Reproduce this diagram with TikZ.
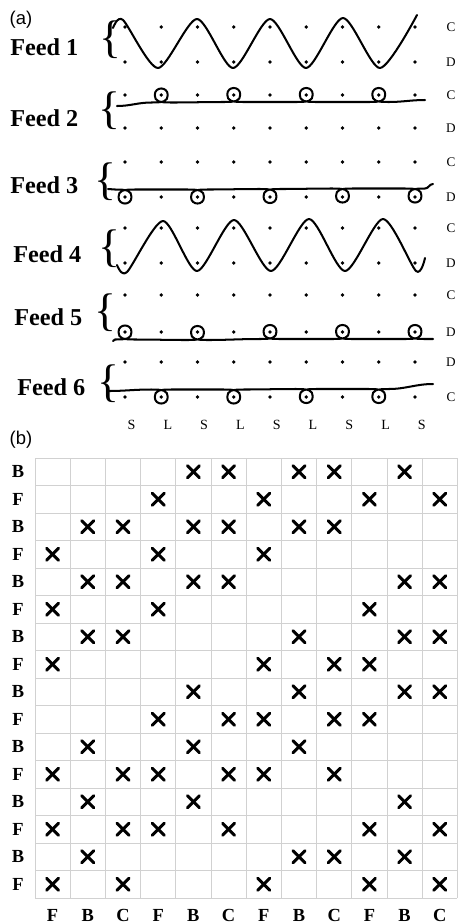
\documentclass[tikz,border=0pt]{standalone}
\usepackage{fontspec}
\setmainfont{Liberation Serif}
\newfontfamily\panelfont{Liberation Sans}
\usetikzlibrary{positioning}
\tikzset{
    feedlbl/.style={font=\fontsize{13.8}{14}\selectfont\bfseries, anchor=west, inner sep=0pt},
    bracelbl/.style={font=\fontsize{26}{26}\selectfont, inner sep=0pt},
    sidelbl/.style={font=\fontsize{7.5}{8}\selectfont, inner sep=0pt},
    stitchlbl/.style={font=\fontsize{8}{9}\selectfont, inner sep=0pt},
    panellbl/.style={font=\panelfont\fontsize{10.5}{12}\selectfont, inner sep=0pt},
    gridlbl/.style={font=\fontsize{10.5}{12}\selectfont\bfseries, inner sep=0pt},
    yarn/.style={line width=1.15pt, line cap=round, line join=round},
    needle/.style={fill=black},
    cellgrid/.style={draw=black!18, line width=0.5pt},
    crossmark/.style={line width=1.7pt, line cap=round}
}

\begin{document}
\begin{tikzpicture}[x=0.02cm, y=-0.02cm]
    \useasboundingbox (0,0) rectangle (458,924);

    % (a) yarn paths over the needle beds
    \node[panellbl] (pa) at (21,20) {(a)};
    \node[feedlbl] (feed1) at (10,47) {Feed 1};
    \node[feedlbl] (feed2) at (10,118) {Feed 2};
    \node[feedlbl] (feed3) at (10,185) {Feed 3};
    \node[feedlbl] (feed4) at (13,254) {Feed 4};
    \node[feedlbl] (feed5) at (14,317) {Feed 5};
    \node[feedlbl] (feed6) at (17,387) {Feed 6};
    \foreach \bx/\by [count=\k] in {110/40, 109/111, 105/182, 109/249, 105/313, 108/384}
        \node[bracelbl] (brace\k) at (\bx,\by) {\{};

    \foreach \y in {27,62,95,128,162,197,228,263,295,332,362,397}
        \foreach \i in {0,...,8}
            \fill[needle] ({125+36.25*\i},\y) circle[radius=1.9];
    \foreach \y/\bed [count=\k] in {27/C, 62/D, 95/C, 128/D, 162/C, 197/D, 228/C, 263/D, 295/C, 332/D, 362/D, 397/C}
        \node[sidelbl] (bed\k) at (451,\y) {\bed};
    \foreach \st [count=\k from 0] in {S,L,S,L,S,L,S,L,S}
        \node[stitchlbl] (st\k) at ({131.5+36.3*\k},425) {\st};

    % feed 1 and feed 4: knit
    \draw[yarn] plot[smooth, tension=0.45] coordinates {(113,28) (123,20) (158,68) (197,19) (233,68) (270,19) (306,68) (343,18) (380,68) (417,15)};
    \draw[yarn] plot[smooth, tension=0.45] coordinates {(117,265) (127,272) (163,221) (197,271) (234,220) (271,271) (309,219) (345,271) (383,219) (416,271) (425,258)};

    % feed 2 and feed 5: tuck loops above the yarn
    \draw[yarn] (117,106) \foreach \cx/\yb in {161.25/102.5, 233.75/102, 306.25/102, 378.75/102} {
        to[out=0,in=180] ({\cx-10},\yb)
        .. controls ({\cx+2},\yb) and ({\cx+6.5},{\yb-1}) .. ({\cx+6.5},{\yb-7.5})
        .. controls ({\cx+6.5},{\yb-16.2}) and ({\cx-6.5},{\yb-16.2}) .. ({\cx-6.5},{\yb-7.5})
        .. controls ({\cx-6.5},{\yb-1}) and ({\cx-2},\yb) .. ({\cx+10},\yb)
    } to[out=0,in=180] (425,100);
    \draw[yarn] (113,341) \foreach \cx/\yb in {125/339.5, 197.5/340, 270/339, 342.5/339, 415/339} {
        to[out=0,in=180] ({\cx-10},\yb)
        .. controls ({\cx+2},\yb) and ({\cx+6.5},{\yb-1}) .. ({\cx+6.5},{\yb-7.5})
        .. controls ({\cx+6.5},{\yb-16.2}) and ({\cx-6.5},{\yb-16.2}) .. ({\cx-6.5},{\yb-7.5})
        .. controls ({\cx-6.5},{\yb-1}) and ({\cx-2},\yb) .. ({\cx+10},\yb)
    } to[out=0,in=180] (433,339);

    % feed 3 and feed 6: tuck loops below the yarn
    \draw[yarn] (108,189) \foreach \cx/\yb in {125/189.5, 197.5/189.5, 270/189, 342.5/188.5, 415/188.5} {
        to[out=0,in=180] ({\cx-10},\yb)
        .. controls ({\cx+2},\yb) and ({\cx+6.5},{\yb+1}) .. ({\cx+6.5},{\yb+7.5})
        .. controls ({\cx+6.5},{\yb+16.2}) and ({\cx-6.5},{\yb+16.2}) .. ({\cx-6.5},{\yb+7.5})
        .. controls ({\cx-6.5},{\yb+1}) and ({\cx-2},\yb) .. ({\cx+10},\yb)
    } to[out=0,in=180] (433,184);
    \draw[yarn] (108,391) \foreach \cx/\yb in {161.25/389.5, 233.75/389.5, 306.25/389, 378.75/389} {
        to[out=0,in=180] ({\cx-10},\yb)
        .. controls ({\cx+2},\yb) and ({\cx+6.5},{\yb+1}) .. ({\cx+6.5},{\yb+7.5})
        .. controls ({\cx+6.5},{\yb+16.2}) and ({\cx-6.5},{\yb+16.2}) .. ({\cx-6.5},{\yb+7.5})
        .. controls ({\cx-6.5},{\yb+1}) and ({\cx-2},\yb) .. ({\cx+10},\yb)
    } to[out=0,in=180] (433,384);

    % (b) notation grid
    \node[panellbl] (pb) at (21,440) {(b)};
    \foreach \i in {0,...,12}
        \draw[cellgrid] ({35+35.2*\i},458) -- ({35+35.2*\i},898);
    \foreach \j in {0,...,16}
        \draw[cellgrid] (35,{458+27.5*\j}) -- (457.4,{458+27.5*\j});
    \foreach \r/\cols in {1/{5,6,8,9,11}, 2/{4,7,10,12}, 3/{2,3,5,6,8,9}, 4/{1,4,7},
                          5/{2,3,5,6,11,12}, 6/{1,4,10}, 7/{2,3,8,11,12}, 8/{1,7,9,10},
                          9/{5,8,11,12}, 10/{4,6,7,9,10}, 11/{2,5,8}, 12/{1,3,4,6,7,9},
                          13/{2,5,11}, 14/{1,3,4,6,10,12}, 15/{2,8,9,11}, 16/{1,3,7,10,12}}
        \foreach \c in \cols {
            \draw[crossmark] ({35+35.2*(\c-0.5)-6},{458+27.5*(\r-0.5)-6}) -- ++(12,12);
            \draw[crossmark] ({35+35.2*(\c-0.5)-6},{458+27.5*(\r-0.5)+6}) -- ++(12,-12);
        }
    \foreach \lb [count=\k] in {B,F,B,F,B,F,B,F,B,F,B,F,B,F,B,F}
        \node[gridlbl] (row\k) at (18,{458+27.5*(\k-0.5)}) {\lb};
    \foreach \lb [count=\k] in {F,B,C,F,B,C,F,B,C,F,B,C}
        \node[gridlbl] (col\k) at ({35+35.2*(\k-0.5)},915) {\lb};
\end{tikzpicture}
\end{document}
